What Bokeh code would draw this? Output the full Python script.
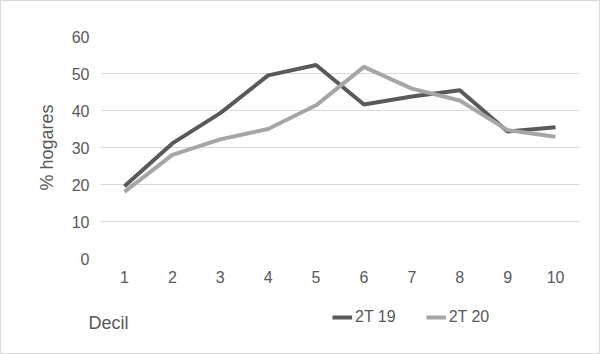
from bokeh.plotting import figure
from bokeh.layouts import column
from bokeh.models import Range1d, FixedTicker, Legend, LegendItem, Label
from bokeh.embed import file_html
from bokeh.resources import INLINE

deciles = [1, 2, 3, 4, 5, 6, 7, 8, 9, 10]
s2t19 = [19.5, 31.1, 39.3, 49.5, 52.3, 41.6, 43.8, 45.5, 34.3, 35.5]
s2t20 = [18.0, 28.0, 32.2, 35.0, 41.4, 51.8, 45.9, 42.7, 34.7, 32.9]
y_ticks = [0, 10, 20, 30, 40, 50, 60]
series_names = ["2T 19", "2T 20"]
series_colors = ["#595959", "#A6A6A6"]

FONT = "Liberation Sans"
TXT = "#595959"
W = 598

p = figure(width=W, height=298, output_backend="svg", toolbar_location=None,
           x_range=Range1d(0.5, 10.5), y_range=Range1d(0, 60),
           min_border_left=99, min_border_right=20, min_border_top=35, min_border_bottom=41)
p.frame_align = False
p.outline_line_color = None
p.background_fill_color = "white"
p.border_fill_color = "white"

p.line(deciles, s2t19, line_color=series_colors[0], line_width=4)
p.line(deciles, s2t20, line_color=series_colors[1], line_width=4)

p.xaxis.ticker = FixedTicker(ticks=deciles)
p.yaxis.ticker = FixedTicker(ticks=y_ticks)
p.xgrid.grid_line_color = None
p.ygrid.grid_line_color = "#D9D9D9"
p.ygrid.grid_line_width = 1
for ax in (p.xaxis, p.yaxis):
    ax.axis_line_color = None
    ax.major_tick_line_color = None
    ax.minor_tick_line_color = None
    ax.major_tick_out = 0
    ax.major_tick_in = 0
    ax.minor_tick_out = 0
    ax.minor_tick_in = 0
    ax.major_label_text_font = FONT
    ax.major_label_text_font_size = "16px"
    ax.major_label_text_color = TXT
    ax.axis_label_text_font = FONT
    ax.axis_label_text_font_size = "18px"
    ax.axis_label_text_color = TXT
    ax.axis_label_text_font_style = "normal"
p.xaxis.major_label_standoff = 12
p.yaxis.major_label_standoff = 11
p.yaxis.axis_label = "% hogares"
p.yaxis.axis_label_standoff = 12

# bottom strip: axis title + legend (pixel-unit ranges)
H2 = 54
p2 = figure(width=W, height=H2, output_backend="svg", toolbar_location=None,
            x_range=Range1d(0, W), y_range=Range1d(0, H2),
            x_axis_location=None, y_axis_location=None,
            min_border_left=0, min_border_right=0, min_border_top=0, min_border_bottom=0)
p2.frame_align = False
p2.outline_line_color = None
p2.grid.grid_line_color = None
p2.background_fill_color = "white"
p2.border_fill_color = "white"
# legend proxies: same series, drawn on an off-screen range so only their legend swatch shows
p2.extra_y_ranges = {"off": Range1d(1000, 1001)}
d1 = p2.line(deciles, s2t19, line_color=series_colors[0], line_width=4, y_range_name="off")
d2 = p2.line(deciles, s2t20, line_color=series_colors[1], line_width=4, y_range_name="off")

p2.add_layout(Label(x=87, y=H2 - 23, text="Decil", text_font=FONT, text_font_size="18px",
                    text_color=TXT, text_align="left", text_baseline="middle"))

legend = Legend(items=[LegendItem(label=series_names[0], renderers=[d1]),
                       LegendItem(label=series_names[1], renderers=[d2])],
                orientation="horizontal", location=(331, H2 - 28),
                label_text_font=FONT, label_text_font_size="16px", label_text_color=TXT,
                glyph_width=20, glyph_height=20, label_standoff=3, spacing=30,
                padding=0, margin=0,
                border_line_color=None, background_fill_alpha=0)
p2.add_layout(legend, "center")

layout = column(p, p2, spacing=0, styles={"border": "1px solid #D9D9D9"})

open("out.html", "w").write(file_html(layout, INLINE))
